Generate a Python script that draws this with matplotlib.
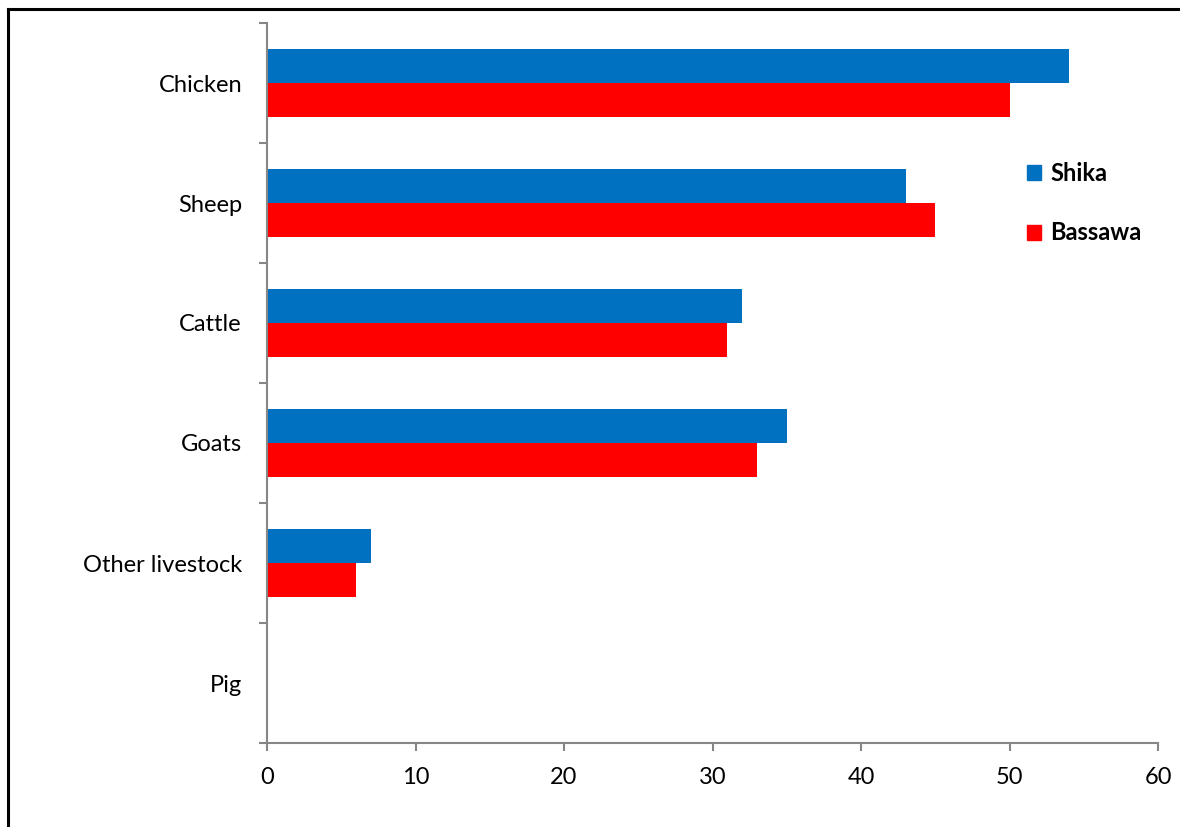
"""
Livestock kept by households in Shika and Bassawa, grouped horizontal bars.
"""

import matplotlib.pyplot as plt
import matplotlib.patches as mpatches
from matplotlib.lines import Line2D
import numpy as np

plt.rcParams.update({
    "font.family": ["Lato", "DejaVu Sans"],
    "font.size": 17,
    "figure.facecolor": "white",
    "axes.facecolor": "white",
})

# bottom-to-top order on the axis
categories = ["Pig", "Other livestock", "Goats", "Cattle", "Sheep", "Chicken"]
shika = [0, 7, 35, 32, 43, 54]
bassawa = [0, 6, 33, 31, 45, 50]
xticks = [0, 10, 20, 30, 40, 50, 60]

BLUE = "#0070C0"
RED = "#FF0000"
AXIS_GREY = "#868686"

fig = plt.figure(figsize=(11.8, 8.27), dpi=100)
ax = fig.add_axes([267 / 1180, 1 - 743 / 827, (1158 - 267) / 1180, (743 - 23) / 827])

y = np.arange(len(categories))
h = 0.2833
ax.barh(y + h / 2, shika, height=h, color=BLUE, label="Shika")
ax.barh(y - h / 2, bassawa, height=h, color=RED, label="Bassawa")

ax.set_xlim(0, 60)
ax.set_ylim(-0.5, len(categories) - 0.5)
ax.set_xticks(xticks)

# category labels sit between the tick marks
ax.set_yticks(y)
ax.set_yticklabels(categories)
ax.set_yticks(np.arange(-0.5, len(categories)), minor=True)
ax.tick_params(axis="y", which="major", length=0, pad=18)
ax.tick_params(axis="y", which="minor", length=6, width=1.5, color=AXIS_GREY, direction="out")
ax.tick_params(axis="x", length=6, width=1.5, color=AXIS_GREY, direction="out", pad=11)

for side in ("top", "right"):
    ax.spines[side].set_visible(False)
for side in ("left", "bottom"):
    ax.spines[side].set_color(AXIS_GREY)
    ax.spines[side].set_linewidth(1.5)

handles = [mpatches.Patch(color=BLUE, label="Shika"),
           mpatches.Patch(color=RED, label="Bassawa")]
ax.legend(handles=handles, loc="upper left", bbox_to_anchor=(1008 / 1180, 1 - 143 / 827),
          bbox_transform=fig.transFigure, frameon=False, handlelength=0.6,
          handleheight=0.6, handletextpad=0.4, labelspacing=1.55, borderpad=0.3,
          prop={"weight": "bold", "size": 17})

# outer chart frame: only the left and top edges fall inside the image
fx, fy = 8 / 1180, 1 - 9 / 827
fig.lines.append(Line2D([fx, fx], [0, fy], transform=fig.transFigure,
                        color="black", linewidth=2.2, solid_capstyle="projecting"))
fig.lines.append(Line2D([fx, 1], [fy, fy], transform=fig.transFigure,
                        color="black", linewidth=2.2, solid_capstyle="projecting"))

fig.savefig("out.png", dpi=100)
